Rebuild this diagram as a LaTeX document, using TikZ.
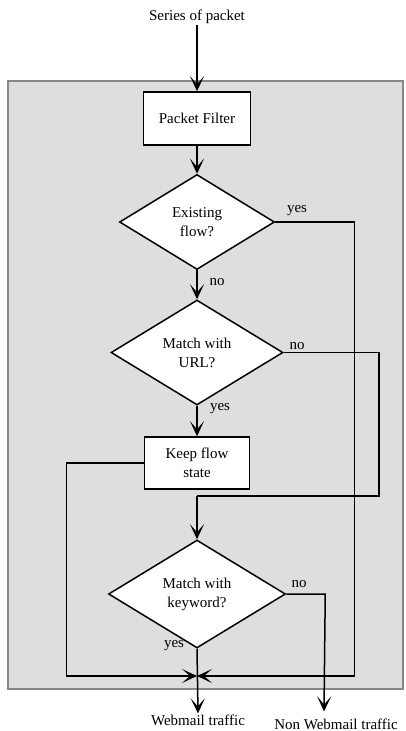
\documentclass[tikz,border=0pt]{standalone}
\usepackage{fontspec}
\setmainfont{Liberation Serif}
\usetikzlibrary{shapes.geometric,arrows.meta}

\tikzset{
  txt/.style={font=\fontsize{15}{19}\selectfont, inner sep=1pt, align=center},
  procbox/.style={txt, draw, fill=white, line width=1.6pt},
  decision/.style={txt, diamond, draw, fill=white, line width=1.5pt, inner sep=0pt},
  flow/.style={line width=1.5pt, -{Stealth[length=15pt,width=14pt,inset=8pt]}},
  link/.style={line width=1.5pt},
  lbl/.style={font=\fontsize{15}{17}\selectfont, inner sep=0pt}
}

\begin{document}
\begin{tikzpicture}[x=1pt,y=1pt]

                % --- Sayfa sınırı ---
                \useasboundingbox (0,0) rectangle (406,-731);

                % --- Gri çerçeve ---
                \draw[fill=black!13, draw=black!47, line width=1.6pt] (8,-81) rectangle (403,-689);

                % --- Düğümler ---
                \node[txt] (src) at (197,-17) {Series of packet};
                \node[procbox, minimum width=107pt, minimum height=53pt] (filter) at (197,-118.5) {Packet Filter};
                \node[decision, minimum width=155pt, minimum height=95pt] (existing) at (197,-222) {Existing\\flow?};
                \node[decision, minimum width=172pt, minimum height=105pt] (url) at (197,-352.5) {Match with\\URL?};
                \node[procbox, minimum width=105pt, minimum height=52pt] (keep) at (197,-463) {Keep flow\\state};
                \node[decision, minimum width=177pt, minimum height=108pt] (keyword) at (197,-594) {Match with\\keyword?};
                \node[txt] (web) at (198,-720) {Webmail traffic};
                \node[txt] (nonweb) at (336,-724) {Non Webmail traffic};

                \coordinate (merge) at (197,-496);
                \coordinate (join) at (197,-676);

                % --- Ana akış ---
                \draw[flow] (src.south) -- (filter.north);
                \draw[flow] (filter.south) -- (existing.north);
                \draw[flow] (existing.south) -- (url.north);
                \draw[flow] (url.south) -- (keep.north);
                \draw[link] (url.east) -- ++(95,0) |- (merge);
                \draw[flow] (merge) -- (keyword.north);

                % --- Birleşme noktası ---
                \draw[flow] (existing.east) -- ++(79,0) |- (join);
                \draw[flow] (keep.west) -- ++(-77,0) |- (join);
                \draw[flow] (keyword.south) -- (web.north);
                \draw[flow] (keyword.east) -- ++(39,0) -- ([xshift=-12pt,yshift=6pt]nonweb.north);

                % --- Etiketler ---
                \node[lbl] (l1) at (297,-211) {yes};
                \node[lbl] (l2) at (217,-282) {no};
                \node[lbl] (l3) at (297,-346) {no};
                \node[lbl] (l4) at (220,-409) {yes};
                \node[lbl] (l5) at (299,-584) {no};
                \node[lbl] (l6) at (174,-646) {yes};

            \end{tikzpicture}
\end{document}
